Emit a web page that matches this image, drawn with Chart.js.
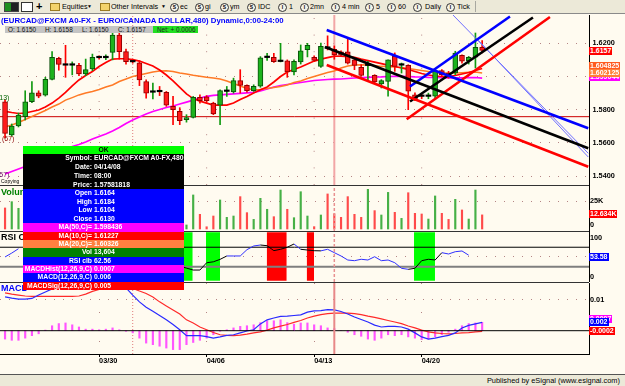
<!DOCTYPE html>
<html><head><meta charset="utf-8">
<script src="https://cdn.jsdelivr.net/npm/chart.js"></script>
<style>
html,body{margin:0;padding:0}
body{width:625px;height:386px;overflow:hidden;position:relative;background:#fffbf0;font-family:"Liberation Sans",Arial,sans-serif}
.cw{position:absolute;left:0}
.a{position:absolute;white-space:nowrap;line-height:1}
#tb{position:absolute;left:0;top:0;width:625px;height:13px;background:#ece9d8;border-bottom:1px solid #8a8a8a;z-index:5;font-size:7.2px;color:#000}
#tb .tx{position:absolute;top:0;line-height:13px;white-space:nowrap}
#tb .ci{position:absolute;top:2.5px;width:7px;height:7px;border:1px solid #333;border-radius:50%;font-size:5px;line-height:7px;text-align:center;font-weight:bold;background:#f4f2e8}
#tb .fold{position:absolute;top:3px;width:8px;height:6px;background:#f3d36b;border:1px solid #9a7a20}
.sep{position:absolute;left:0;width:589px;height:1px;background:#333;z-index:3}
.lab{position:absolute;left:589px;height:8px;line-height:8px;padding:0 1px;color:#fff;font-weight:bold;font-size:7px;white-space:nowrap;z-index:4}
.ax{position:absolute;left:590px;font-weight:bold;font-size:7.3px;line-height:1;z-index:4}
#tip{position:absolute;left:23px;top:146px;width:161px;z-index:6;font-weight:bold;font-size:6.8px;color:#fff}
#tip .r{position:relative;width:161px;overflow:hidden;white-space:nowrap}
#tip .l{position:absolute;right:92px;top:0}
#tip .v{position:absolute;left:71px;top:0}
</style></head><body>

<div class="cw" style="top:15px"><canvas id="cPrice" width="625" height="170"></canvas></div>
<div class="cw" style="top:185px"><canvas id="cVol" width="625" height="46"></canvas></div>
<div class="cw" style="top:231px"><canvas id="cRsi" width="625" height="51"></canvas></div>
<div class="cw" style="top:283px"><canvas id="cMacd" width="625" height="89"></canvas></div>

<div class="sep" style="top:185px"></div>
<div class="sep" style="top:231px"></div>
<div class="sep" style="top:282px"></div>

<div id="tb">
 <div style="position:absolute;left:4px;top:2px;width:13px;height:8px;background:linear-gradient(90deg,#1f8f1f 0 50%,#222 50% 100%);border:1px solid #444"></div>
 <div style="position:absolute;left:21px;top:2px;width:10px;height:8px;background:#fff;border:1px solid #333"></div>
 <div class="tx" style="left:36px;font-size:11px;font-weight:bold">+</div>
 <div class="fold" style="left:50px"></div>
 <div class="tx" style="left:62px">Equities</div>
 <div class="tx" style="left:87px;font-size:5px">▼</div>
 <div class="fold" style="left:100px"></div>
 <div class="tx" style="left:111px">Other Intervals</div>
 <div class="tx" style="left:161px;font-size:5px">▼</div>
 <div class="ci" style="left:170px">S</div><div class="tx" style="left:180px">ec</div>
 <div class="ci" style="left:195px">S</div><div class="tx" style="left:205px">gi</div>
 <div class="ci" style="left:220px">S</div><div class="tx" style="left:230px">ym</div>
 <div class="ci" style="left:247px">S</div><div class="tx" style="left:258px">IDC</div>
 <div class="ci" style="left:278px">I</div><div class="tx" style="left:289px">1</div>
 <div class="ci" style="left:300px">I</div><div class="tx" style="left:310px">2mn</div>
 <div class="ci" style="left:331px">I</div><div class="tx" style="left:342px">4 min</div>
 <div class="ci" style="left:365px">I</div><div class="tx" style="left:376px">5</div>
 <div class="ci" style="left:387px">I</div><div class="tx" style="left:398px">60</div>
 <div class="ci" style="left:413px">I</div><div class="tx" style="left:425px">Daily</div>
 <div class="ci" style="left:446px">I</div><div class="tx" style="left:457px">Tick</div>
 <div style="position:absolute;left:475px;top:1px;width:1px;height:11px;background:#a8a8a0"></div>
</div>

<div class="a" style="left:1px;top:16.5px;color:#0000ff;font-weight:bold;font-size:7.8px;z-index:4">(EURCAD@FXCM A0-FX - EURO/CANADA DOLLAR,480) Dynamic,0:00-24:00</div>
<div class="a" style="left:5px;top:26px;width:148px;height:7px;background:#c4c4c4;z-index:4;font-size:6.4px;line-height:7px;color:#111">
 <span style="position:absolute;left:3px">O: 1.6150</span><span style="position:absolute;left:40px">H: 1.6158</span><span style="position:absolute;left:77px">L: 1.6150</span><span style="position:absolute;left:113px">C: 1.6157</span>
</div>
<div class="a" style="left:153px;top:26px;width:45px;height:7px;background:#22e022;z-index:4;font-size:6.4px;line-height:7px;color:#222;text-indent:4px">Net: + 0.0006</div>

<div class="a" style="left:-3px;top:94px;color:#006400;font-size:7px;z-index:4">(13)</div>
<div class="a" style="left:2px;top:135px;color:#8b0000;font-size:7px;z-index:4">(67)</div>
<div class="a" style="left:-3px;top:171px;color:#600060;font-size:7px;z-index:4">(57)</div>
<div class="a" style="left:1px;top:179px;color:#000;font-size:5px;z-index:4">Copying</div>
<div class="a" style="left:1px;top:188px;color:#008000;font-weight:bold;font-size:9px;z-index:4">Volume</div>
<div class="a" style="left:1px;top:233px;color:#000;font-weight:bold;font-size:9px;z-index:4">RSI Clb</div>
<div class="a" style="left:1px;top:284px;color:#0000ff;font-weight:bold;font-size:9px;z-index:4">MACD</div>

<div class="lab" style="top:46.8px;background:#ff0000">1.6157</div>
<div class="lab" style="top:62px;background:#ff5a1e">1.604825</div>
<div class="lab" style="top:72.5px;background:#ff00ff">1.599044</div>
<div class="lab" style="top:68.5px;background:#ff8038">1.602125</div>
<div class="lab" style="top:209.5px;background:#ff0000">12.634K</div>
<div class="lab" style="top:252.5px;background:#0000ff">53.58</div>
<div class="lab" style="top:315px;background:#ff00ff">0.0007</div>
<div class="lab" style="top:317.5px;background:#0000ff">0.002</div>
<div class="lab" style="top:327.3px;background:#ff0000">-0.0002</div>
<div class="ax" style="top:220.5px">0</div>
<div class="ax" style="top:233.5px">100</div>
<div class="ax" style="top:273px">0</div>

<div id="tip">
 <div class="r" style="height:8.3px;line-height:8.3px;background:#00ff00;color:#000;text-align:center">OK</div>
 <div style="background:#000">
  <div class="r" style="height:8.8px;line-height:8.8px"><span class="l">Symbol:</span><span class="v">EURCAD@FXCM A0-FX,480</span></div>
  <div class="r" style="height:8.8px;line-height:8.8px"><span class="l">Date:</span><span class="v">04/14/08</span></div>
  <div class="r" style="height:8.8px;line-height:8.8px"><span class="l">Time:</span><span class="v">08:00</span></div>
  <div class="r" style="height:8.8px;line-height:8.8px"><span class="l">Price:</span><span class="v">1.57581818</span></div>
 </div>
 <div style="background:#0000ff">
  <div class="r" style="height:8.5px;line-height:8.5px"><span class="l">Open</span><span class="v">1.6164</span></div>
  <div class="r" style="height:8.5px;line-height:8.5px"><span class="l">High</span><span class="v">1.6184</span></div>
  <div class="r" style="height:8.5px;line-height:8.5px"><span class="l">Low</span><span class="v">1.6104</span></div>
  <div class="r" style="height:8.5px;line-height:8.5px"><span class="l">Close</span><span class="v">1.6130</span></div>
 </div>
 <div class="r" style="height:8.34px;line-height:8.34px;background:#ff00ff"><span class="l">MA(50,C)=</span><span class="v">1.598436</span></div>
 <div class="r" style="height:8.34px;line-height:8.34px;background:#ff0000"><span class="l">MA(10,C)=</span><span class="v">1.61227</span></div>
 <div class="r" style="height:8.34px;line-height:8.34px;background:#ff8040"><span class="l">MA(20,C)=</span><span class="v">1.60326</span></div>
 <div class="r" style="height:8.34px;line-height:8.34px;background:#008000"><span class="l">Vol</span><span class="v">13,604</span></div>
 <div class="r" style="height:8.34px;line-height:8.34px;background:#0000ff"><span class="l">RSI clb</span><span class="v">62.56</span></div>
 <div class="r" style="height:8.34px;line-height:8.34px;background:#ff00ff"><span class="l">MACDHist(12,26,9,C)</span><span class="v">0.0007</span></div>
 <div class="r" style="height:8.34px;line-height:8.34px;background:#0000ff"><span class="l">MACD(12,26,9,C)</span><span class="v">0.006</span></div>
 <div class="r" style="height:8.34px;line-height:8.34px;background:#ff0000"><span class="l">MACDSig(12,26,9,C)</span><span class="v">0.005</span></div>
</div>

<div class="a" style="left:0;top:374px;width:625px;height:12px;background:#ece9d8;border-top:1px solid #555;z-index:5"></div>
<div class="a" style="right:5px;top:377px;font-size:7.4px;color:#000;z-index:6">Published by eSignal (www.esignal.com)</div>

<script>
// ---------- data (8-hour bars, index 0..71) ----------
const OPEN = [1.5848,1.5648,1.5702,1.5758,1.5848,1.5902,1.5887,1.5983,1.6110,1.6070,
 1.6068,1.6068,1.6015,1.6045,1.6115,1.6113,1.6145,1.6250,1.6150,1.6090,
 1.6082,1.5970,1.5905,1.5910,1.5905,1.5820,1.5790,1.5740,1.5754,1.5875,
 1.5878,1.5840,1.5827,1.5910,1.5907,1.5975,1.5947,1.5915,1.5941,1.6114,
 1.6115,1.6090,1.6095,1.6028,1.6088,1.6162,1.6115,1.6061,1.6172,1.6164,
 1.6148,1.6148,1.6101,1.6055,1.6066,1.6007,1.5955,1.5971,1.6122,1.6068,
 1.6068,1.5890,1.5882,1.5880,1.5881,1.6035,1.6021,1.6021,1.6128,1.6095,
 1.6116,1.6176];
const HIGH = [1.5860,1.5714,1.5780,1.5914,1.5969,1.5914,1.5995,1.6150,1.6116,1.6188,
 1.6088,1.6080,1.6105,1.6135,1.6125,1.6130,1.6262,1.6270,1.6165,1.6095,
 1.6095,1.5980,1.5960,1.5940,1.5910,1.5880,1.5812,1.5770,1.5880,1.5890,
 1.5885,1.5845,1.5920,1.5940,1.5990,1.6041,1.5950,1.5950,1.6120,1.6140,
 1.6140,1.6200,1.6100,1.6100,1.6190,1.6200,1.6125,1.6202,1.6245,1.6184,
 1.6154,1.6232,1.6111,1.6071,1.6092,1.6011,1.5981,1.6101,1.6142,1.6081,
 1.6071,1.5901,1.5895,1.5900,1.6041,1.6041,1.6031,1.6152,1.6131,1.6121,
 1.6262,1.6216];
const LOW = [1.5630,1.5642,1.5696,1.5738,1.5842,1.5872,1.5882,1.5979,1.6038,1.5995,
 1.6010,1.6005,1.6005,1.6035,1.6105,1.6102,1.6100,1.6104,1.6075,1.6080,
 1.5945,1.5870,1.5865,1.5885,1.5820,1.5710,1.5710,1.5725,1.5750,1.5840,
 1.5845,1.5770,1.5710,1.5880,1.5900,1.5900,1.5905,1.5910,1.5935,1.6097,
 1.6085,1.6088,1.5995,1.6010,1.6075,1.6118,1.6090,1.6055,1.6160,1.6104,
 1.6123,1.6075,1.6041,1.6001,1.5971,1.5961,1.5931,1.5881,1.6031,1.6021,
 1.5800,1.5854,1.5866,1.5866,1.5870,1.6001,1.5990,1.6011,1.6081,1.6075,
 1.6051,1.6142];
const CLOSE = [1.5657,1.5702,1.5768,1.5848,1.5902,1.5882,1.5983,1.6116,1.6073,1.6068,
 1.6070,1.6015,1.6041,1.6116,1.6113,1.6115,1.6250,1.6150,1.6090,1.6088,
 1.5980,1.5900,1.5907,1.5908,1.5827,1.5800,1.5734,1.5752,1.5875,1.5855,
 1.5855,1.5774,1.5915,1.5912,1.5975,1.5947,1.5915,1.5941,1.6112,1.6116,
 1.6090,1.6092,1.6028,1.6092,1.6155,1.6188,1.6097,1.6182,1.6170,1.6130,
 1.6128,1.6081,1.6067,1.6007,1.6068,1.5967,1.5975,1.6101,1.6061,1.6072,
 1.5911,1.5860,1.5880,1.5882,1.6031,1.6011,1.6001,1.6141,1.6092,1.6115,
 1.6176,1.6157];
const MA10 = [1.5790,1.5783,1.5777,1.5780,1.5789,1.5798,1.5816,1.5840,1.5870,1.5904,
 1.5943,1.5979,1.6006,1.6030,1.6060,1.6084,1.6105,1.6107,1.6107,1.6102,
 1.6093,1.6078,1.6063,1.6039,1.6009,1.5973,1.5934,1.5895,1.5867,1.5852,
 1.5840,1.5828,1.5827,1.5828,1.5840,1.5861,1.5880,1.5901,1.5920,1.5937,
 1.5967,1.6000,1.6027,1.6042,1.6057,1.6075,1.6093,1.6105,1.6114,1.6123,
 1.6122,1.6120,1.6116,1.6105,1.6096,1.6087,1.6078,1.6069,1.6060,1.6051,
 1.6042,1.6030,1.6018,1.6009,1.6003,1.6000,1.6000,1.6006,1.6015,1.6024,
 1.6036,1.6048];
const MA20 = [1.5696,1.5708,1.5723,1.5741,1.5759,1.5777,1.5795,1.5816,1.5834,1.5858,
 1.5873,1.5889,1.5901,1.5910,1.5922,1.5937,1.5949,1.5970,1.5985,1.6000,
 1.6009,1.6018,1.6027,1.6033,1.6035,1.6030,1.6021,1.6015,1.6007,1.6001,
 1.5995,1.5991,1.5985,1.5973,1.5958,1.5943,1.5928,1.5920,1.5922,1.5928,
 1.5934,1.5940,1.5949,1.5964,1.5973,1.5988,1.6000,1.6012,1.6024,1.6033,
 1.6051,1.6063,1.6069,1.6071,1.6069,1.6066,1.6061,1.6059,1.6057,1.6054,
 1.6048,1.6042,1.6036,1.6030,1.6024,1.6021,1.6021,1.6021,1.6023,1.6025,
 1.6027,1.6021];
const MA50 = [1.5413,1.5428,1.5443,1.5458,1.5473,1.5488,1.5506,1.5521,1.5539,1.5557,
 1.5578,1.5590,1.5605,1.5623,1.5639,1.5654,1.5672,1.5693,1.5717,1.5738,
 1.5756,1.5774,1.5789,1.5801,1.5813,1.5822,1.5834,1.5846,1.5858,1.5870,
 1.5880,1.5886,1.5889,1.5892,1.5895,1.5898,1.5901,1.5904,1.5913,1.5925,
 1.5937,1.5946,1.5952,1.5958,1.5964,1.5970,1.5976,1.5979,1.5982,1.5984,
 1.5985,1.5988,1.5991,1.5993,1.5995,1.5997,1.5998,1.6000,1.6001,1.6001,
 1.6000,1.5998,1.5997,1.5995,1.5994,1.5993,1.5992,1.5992,1.5992,1.5993,
 1.5994,1.5990];
// volume in thousands (bars hidden behind the data box are left empty)
const VOLUME_K = [18.8,24.4,18.5,
 null,null,null,null,null,null,null,null,null,null,null,null,null,null,null,null,null,null,null,null,null,null,null,null,
 3.6,30.4,13.1,2.0,11.6,25.9,10.4,11.6,28.9,14.6,
 8.6,27.4,17.6,11.0,34.8,17.6,10.1,33.3,11.6,2.1,
 12.5,31.3,13.6,10.4,28.9,13.1,10.4,35.4,16.4,12.5,
 32.7,14.9,9.5,32.4,14.0,13.4,8.9,29.5,14.0,8.6,
 26.5,17.0,8.9,34.8,12.6];
const RSI = [50,58,67,
 null,null,null,null,null,null,null,null,null,null,null,null,null,null,null,null,null,null,null,null,null,
 20,
 32,31,27,23,23,38,40,45,52,52,
 52,65,72.6,74.6,73.2,63,65.8,70,76.7,65.8,
 64.3,62.9,62.56,65.8,58.8,52,43.7,42.3,45.2,43.7,
 50.5,42.3,43.7,38.1,26.6,24.5,26.6,42.3,45.2,43.7,
 58.8,56.1,60.8,62.3,53.58];
const MACD = [0.0109,0.0105,0.0102,0.0102,0.0104,0.0115,0.0125,0.0135,0.0140,0.0145,
 0.0148,0.0150,0.0150,0.0148,0.0147,0.0146,0.0143,0.0140,0.0138,0.0115,
 0.0093,0.0076,0.0063,0.0049,0.0035,0.0020,0.0003,-0.0016,-0.0016,-0.0016,
 -0.0019,-0.0024,-0.0020,-0.0015,-0.0013,-0.0007,-0.0001,0.0003,0.0022,0.0035,
 0.0041,0.0046,0.0047,0.0049,0.0051,0.0060,0.0064,0.0065,0.0068,0.0067,
 0.0062,0.0054,0.0044,0.0036,0.0028,0.0018,0.0012,0.0014,0.0014,0.0012,
 0.0005,-0.0007,-0.0020,-0.0027,-0.0024,-0.0019,-0.0015,-0.0007,0.0009,0.0017,
 0.0022,0.0027];
const MACD_SIGNAL = [0.0122,0.0118,0.0115,0.0112,0.0111,0.0111,0.0111,0.0111,0.0111,0.0111,
 0.0111,0.0112,0.0118,0.0127,0.0133,0.0137,0.0139,0.0140,0.0138,0.0136,
 0.0128,0.0120,0.0109,0.0093,0.0080,0.0067,0.0054,0.0035,0.0025,0.0012,
 0.0003,-0.0006,-0.0013,-0.0015,-0.0016,-0.0014,-0.0011,-0.0007,-0.0004,0.0002,
 0.0009,0.0015,0.0020,0.0027,0.0033,0.0041,0.0047,0.0052,0.0055,0.0057,
 0.0057,0.0057,0.0055,0.0052,0.0047,0.0043,0.0038,0.0033,0.0028,0.0023,
 0.0015,0.0009,0.0002,-0.0004,-0.0007,-0.0009,-0.0010,-0.0009,-0.0007,-0.0006,
 -0.0004,-0.0002];
const MACD_HIST = [-0.0027,-0.0031,-0.0031,-0.0024,-0.0016,-0.0010,0.0002,0.0016,0.0023,0.0025,
 0.0019,0.0012,0.0005,0.0005,0.0003,0.0005,0.0009,0.0003,-0.0002,-0.0007,
 -0.0024,-0.0040,-0.0045,-0.0050,-0.0056,-0.0061,-0.0061,-0.0045,-0.0038,-0.0031,
 -0.0024,-0.0013,-0.0002,0.0003,0.0009,0.0014,0.0016,0.0019,0.0026,0.0032,
 0.0032,0.0035,0.0026,0.0021,0.0025,0.0025,0.0019,0.0016,0.0009,0.0007,
 0.0000,-0.0005,-0.0013,-0.0018,-0.0027,-0.0031,-0.0024,-0.0013,-0.0016,-0.0013,
 -0.0020,-0.0024,-0.0029,-0.0027,-0.0020,-0.0013,-0.0005,0.0005,0.0016,0.0023,
 0.0025,0.0027];
const DATE_TICKS = [14, 30, 46, 62];
const DATE_LABELS = ['03/30', '04/06', '04/13', '04/20'];
const PRICE_TICKS = [1.54, 1.56, 1.58, 1.60, 1.62];
const SUPPORT_PRICE = 1.5758;
const CURSOR_BAR = 49;      // 04/14/08 08:00
const MARKER_BAR = 19;
// drawn trend lines: [bar, price] endpoints
const TREND_LINES = [
  {kind:'blue',  from:[47.87,1.62801], to:[86.79,1.56880]},
  {kind:'black', from:[47.61,1.61777], to:[86.79,1.55675]},
  {kind:'red',   from:[47.87,1.60693], to:[86.79,1.54566]},
  {kind:'blue',  from:[60.26,1.59398], to:[75.14,1.63614]},
  {kind:'black', from:[60.26,1.58494], to:[78.56,1.63554]},
  {kind:'red',   from:[59.77,1.57422], to:[81.09,1.63584]},
  {kind:'thin',  from:[66.66,1.63705], to:[86.79,1.55373]},
  {kind:'thin',  from:[70.38,1.62199], to:[86.79,1.55151]}
];
// RSI signal zones [fromBar, toBar, type]
const RSI_ZONES = [[26.48,27.93,'low'],[29.9,31.99,'low'],[38.94,41.92,'high'],[44.89,45.98,'high'],[60.86,63.98,'low']];

// ---------- drawing ----------
const XMIN = -0.75, XMAX = 86.9;
Chart.defaults.font.family = "'Liberation Sans', Arial, sans-serif";
const N = OPEN.length;
const idx = Array.from({length: N}, (_, i) => i);
const isUp = i => CLOSE[i] >= OPEN[i];
const isDoji = i => Math.abs(CLOSE[i] - OPEN[i]) < 0.0004;
const TREND_STYLE = {blue:['#0000ff',2.6], black:['#000000',2.6], red:['#ff0000',2.6], thin:['#6f6fff',1]};
const GRID_DOT = '#b58585';

function hidden() { return {type:'linear', min:XMIN, max:XMAX, offset:false, display:false, grid:{offset:false}}; }
function yAxis(min, max, ticks, fmt, pad) {
  return {
    type:'linear', position:'right', min, max,
    afterFit(s) { s.width = 36; s.paddingTop = 0; s.paddingBottom = 0; },
    afterBuildTicks(s) { s.ticks = ticks.map(v => ({value: v})); },
    ticks: {callback: fmt, color:'#000', padding: pad, autoSkip:false, font:{size:7.3, weight:'bold'}},
    grid: {color: GRID_DOT, lineWidth: 1, drawTicks: false},
    border: {display: true, color:'#000', width: 1, dash:[1, 8]}
  };
}
function seg(x0, y0, x1, y1, color, width, dash, order) {
  return {type:'line', data:[{x:x0, y:y0}, {x:x1, y:y1}], borderColor: color, borderWidth: width,
          borderDash: dash || [], pointRadius: 0, fill: false, tension: 0, order};
}
function series(arr, color, width, order, extra) {
  return Object.assign({type:'line', data: arr.map((v, i) => ({x: i, y: v})), borderColor: color,
          borderWidth: width, pointRadius: 0, fill: false, tension: 0, spanGaps: false, order}, extra || {});
}
function make(id, datasets, yopts, xopts) {
  return new Chart(document.getElementById(id), {
    type:'bar', data:{datasets},
    options:{responsive:false, animation:false, devicePixelRatio:1, events:[],
      layout:{padding:0},
      plugins:{legend:{display:false}, tooltip:{enabled:false}},
      scales:{x: xopts || hidden(), y: yopts}}
  });
}

// price panel
const PMIN = 1.534639, PMAX = 1.637048;
const priceSets = [];
TREND_LINES.forEach(t => {
  const st = TREND_STYLE[t.kind];
  priceSets.push(seg(t.from[0], t.from[1], t.to[0], t.to[1], st[0], st[1], [], 0));
});
priceSets.push({type:'bar', order:1, grouped:false, barThickness:5, minBarLength:1.5, borderSkipped:false,
  data: idx.map(i => ({x:i, y:[OPEN[i], CLOSE[i]]})),
  backgroundColor: idx.map(i => isDoji(i) ? '#000' : (isUp(i) ? '#1db31d' : '#ff1a1a')),
  borderColor: idx.map(i => isDoji(i) ? '#000' : (isUp(i) ? '#0b500b' : '#900000')),
  borderWidth: idx.map(i => isDoji(i) ? 0 : 1)});
priceSets.push({type:'bar', order:2, grouped:false, barThickness:1, borderWidth:0,
  data: idx.map(i => ({x:i, y:[LOW[i], HIGH[i]]})),
  backgroundColor: idx.map(i => isUp(i) ? '#119a11' : '#ff0000')});
priceSets.push(series(MA10, '#ff0000', 1.7, 3));
priceSets.push(series(MA20, '#ff7a26', 1.5, 4));
priceSets.push(series(MA50, '#ff00ff', 1.7, 5));
priceSets.push(seg(XMIN, SUPPORT_PRICE, XMAX, SUPPORT_PRICE, '#cc0000', 1, [], 6));
priceSets.push(seg(CURSOR_BAR, PMIN, CURSOR_BAR, PMAX, '#f2a6a6', 2, [], 7));
priceSets.push(seg(MARKER_BAR, PMIN, MARKER_BAR, PMAX, '#e07a7a', 1, [1, 2], 7));
DATE_TICKS.forEach(d => priceSets.push(seg(d, PMIN, d, PMAX, GRID_DOT, 1, [1, 15.6], 8)));
make('cPrice', priceSets, yAxis(PMIN, PMAX, PRICE_TICKS, v => v.toFixed(4), 3.5));

// volume panel
const VMIN = -1.786, VMAX = 39.29;
make('cVol', [
  seg(CURSOR_BAR, VMIN, CURSOR_BAR, VMAX, '#e89090', 1.5, [3, 2], 0),
  {type:'bar', order:1, grouped:false, barThickness:1.5, borderWidth:0,
   data: idx.map(i => ({x:i, y: VOLUME_K[i]})),
   backgroundColor: idx.map(i => isUp(i) ? '#46b046' : '#ff4a4a')}
], yAxis(VMIN, VMAX, [25], () => '25K', 1));

// RSI panel
const RMIN = -1.65, RMAX = 103.5;
const inZone = x => RSI_ZONES.some(z => x >= z[0] - 0.6 && x <= z[1] + 0.6);
const rsiSets = [
  seg(CURSOR_BAR, RMIN, CURSOR_BAR, RMAX, '#e89090', 1.5, [3, 2], 0),
  series(RSI, '#2f2fff', 1, 1, {segment:{borderColor: c => inZone((c.p0.parsed.x + c.p1.parsed.x) / 2) ? '#000' : '#2f2fff'}}),
  seg(XMIN, 70, XMAX, 70, '#000', 1, [], 2),
  seg(XMIN, 30, XMAX, 30, '#7f7f7f', 2, [], 2)
];
RSI_ZONES.forEach(z => rsiSets.push({type:'line', order:5, data:[{x:z[0], y:101}, {x:z[1], y:101}],
  borderWidth:0, pointRadius:0, fill:{value:1}, backgroundColor: z[2] === 'low' ? '#00ff00' : '#ff0000'}));
make('cRsi', rsiSets, yAxis(RMIN, RMAX, [50], () => '', 1));

// MACD panel + date axis
const MMIN = -0.007516, MMAX = 0.015387;
make('cMacd', [
  seg(CURSOR_BAR, MMIN, CURSOR_BAR, MMAX, '#e88888', 2, [], 0),
  seg(XMIN, 0, XMAX, 0, '#000', 1, [], 1),
  series(MACD, '#2a2aff', 1.2, 2),
  series(MACD_SIGNAL, '#ff2a2a', 1.2, 2),
  {type:'bar', order:3, grouped:false, barThickness:1.5, borderWidth:0,
   data: idx.map(i => ({x:i, y: MACD_HIST[i]})), backgroundColor:'#ff55ff'},
  seg(MARKER_BAR, MMIN, MARKER_BAR, MMAX, '#e07a7a', 1, [1, 2], 4)
], yAxis(MMIN, MMAX, [0.01], v => v.toFixed(2), 1), {
  type:'linear', position:'bottom', min:XMIN, max:XMAX, offset:false,
  afterFit(s) { s.height = 18; s.paddingLeft = 0; s.paddingRight = 0; },
  afterBuildTicks(s) { s.ticks = DATE_TICKS.map(v => ({value: v})); },
  ticks:{callback: v => DATE_LABELS[DATE_TICKS.indexOf(v)], align:'start', padding:0, autoSkip:false, maxRotation:0,
         color:'#000', font:{size:7.3, weight:'bold'}},
  grid:{color: GRID_DOT, offset:false, drawTicks:true, tickLength:3, tickColor:'#000', tickWidth:1},
  border:{display:true, color:'#000', width:1, dash:[1, 28]}
});
</script>
</body></html>
